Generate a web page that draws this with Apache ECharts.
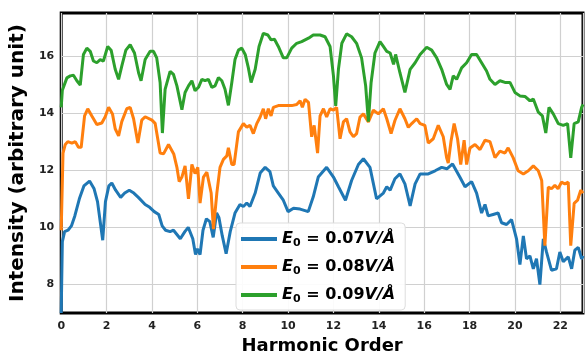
<!DOCTYPE html>
<html>
<head>
<meta charset="utf-8">
<script src="https://cdn.jsdelivr.net/npm/echarts@6/dist/echarts.min.js"></script>
<style>
html, body { margin: 0; padding: 0; background: #fff; }
#chart { width: 587px; height: 360px; }
</style>
</head>
<body>
<div id="chart"></div>
<script>
// harmonic order (x) and intensity (y) for each field strength
var h07 = [0, 0.05, 0.15, 0.3, 0.45, 0.6, 0.8, 1.0, 1.25, 1.45, 1.6, 1.83, 1.95, 2.1, 2.23, 2.4, 2.62, 2.8, 3.0, 3.2, 3.4, 3.7, 3.9, 4.1, 4.3, 4.45, 4.6, 4.8, 4.95, 5.1, 5.25, 5.45, 5.6, 5.8, 5.92, 6.0, 6.12, 6.25, 6.4, 6.55, 6.7, 6.85, 6.95, 7.1, 7.27, 7.45, 7.66, 7.88, 8.03, 8.18, 8.32, 8.55, 8.77, 8.99, 9.2, 9.35, 9.57, 9.79, 10.0, 10.24, 10.53, 10.89, 11.11, 11.33, 11.7, 12.0, 12.22, 12.53, 12.8, 13.1, 13.32, 13.61, 13.9, 14.2, 14.35, 14.5, 14.71, 14.93, 15.15, 15.38, 15.6, 15.82, 16.18, 16.48, 16.77, 17.0, 17.25, 17.57, 17.8, 18.09, 18.31, 18.53, 18.68, 18.82, 19.04, 19.26, 19.41, 19.63, 19.85, 20.07, 20.22, 20.37, 20.51, 20.66, 20.81, 20.95, 21.1, 21.25, 21.39, 21.61, 21.83, 21.98, 22.13, 22.35, 22.5, 22.64, 22.79, 22.94, 23.0];
var i07 = [7.0, 9.5, 9.85, 9.9, 10.05, 10.4, 11.0, 11.45, 11.62, 11.35, 10.9, 9.55, 10.9, 11.45, 11.55, 11.3, 11.05, 11.2, 11.3, 11.2, 11.05, 10.8, 10.7, 10.55, 10.45, 10.05, 9.9, 9.85, 9.9, 9.75, 9.6, 9.85, 10.0, 9.6, 9.05, 9.25, 9.05, 9.9, 10.3, 10.2, 9.65, 10.5, 10.35, 9.7, 9.08, 9.85, 10.5, 10.8, 10.73, 10.85, 10.73, 11.2, 11.9, 12.1, 11.95, 11.45, 11.2, 10.95, 10.55, 10.67, 10.64, 10.55, 11.07, 11.76, 12.1, 11.76, 11.42, 10.95, 11.64, 12.2, 12.4, 12.1, 11.0, 11.2, 11.42, 11.3, 11.7, 11.87, 11.52, 10.75, 11.52, 11.87, 11.87, 11.98, 12.1, 12.05, 12.22, 11.76, 11.42, 11.6, 11.2, 10.5, 10.8, 10.4, 10.45, 10.5, 10.16, 10.1, 10.27, 9.6, 8.7, 9.7, 8.9, 9.0, 8.55, 8.9, 8.0, 9.6, 9.14, 8.5, 8.55, 9.14, 8.8, 8.97, 8.55, 9.2, 9.3, 8.9, 9.0];

var h08 = [0, 0.08, 0.18, 0.29, 0.47, 0.62, 0.76, 0.88, 1.03, 1.17, 1.35, 1.57, 1.79, 1.94, 2.09, 2.26, 2.38, 2.53, 2.67, 2.89, 3.04, 3.19, 3.38, 3.55, 3.7, 4.0, 4.14, 4.36, 4.51, 4.73, 4.96, 5.1, 5.2, 5.32, 5.46, 5.61, 5.76, 5.9, 6.02, 6.12, 6.27, 6.42, 6.61, 6.71, 6.86, 7.0, 7.15, 7.3, 7.37, 7.52, 7.62, 7.81, 8.03, 8.18, 8.32, 8.47, 8.62, 8.77, 8.91, 9.01, 9.13, 9.25, 9.35, 9.57, 9.87, 10.16, 10.38, 10.53, 10.63, 10.75, 10.9, 11.04, 11.15, 11.3, 11.41, 11.56, 11.7, 11.85, 12.0, 12.14, 12.29, 12.44, 12.58, 12.73, 12.88, 13.02, 13.17, 13.32, 13.54, 13.76, 13.98, 14.2, 14.35, 14.54, 14.71, 14.93, 15.15, 15.3, 15.45, 15.67, 15.82, 16.03, 16.18, 16.4, 16.62, 16.84, 16.99, 17.06, 17.18, 17.32, 17.47, 17.61, 17.76, 17.87, 18.02, 18.24, 18.46, 18.68, 18.9, 19.12, 19.34, 19.56, 19.7, 19.92, 20.14, 20.37, 20.59, 20.81, 21.03, 21.18, 21.32, 21.47, 21.61, 21.76, 21.9, 22.05, 22.2, 22.35, 22.46, 22.61, 22.76, 22.9, 23.0];
var i08 = [9.9, 12.6, 12.9, 13.0, 12.95, 13.0, 12.8, 12.8, 13.9, 14.15, 13.9, 13.6, 13.65, 13.87, 14.2, 13.97, 13.45, 13.2, 13.7, 14.15, 14.2, 13.8, 12.95, 13.75, 13.87, 13.75, 13.64, 12.6, 12.57, 12.9, 12.57, 12.1, 11.6, 11.76, 12.15, 11.0, 12.2, 11.88, 12.1, 10.85, 11.76, 11.93, 11.2, 9.94, 11.2, 12.1, 12.38, 12.5, 12.78, 12.2, 12.2, 13.34, 13.63, 13.5, 13.57, 13.28, 13.63, 13.86, 14.15, 13.8, 14.15, 13.9, 14.2, 14.26, 14.26, 14.26, 14.3, 14.43, 14.2, 14.48, 14.37, 13.17, 13.57, 12.6, 13.9, 14.15, 13.86, 14.15, 14.1, 14.2, 13.1, 13.69, 13.8, 13.34, 13.17, 13.28, 13.86, 13.97, 13.69, 14.1, 13.97, 14.15, 13.8, 13.28, 13.74, 14.15, 13.8, 13.5, 13.63, 13.8, 13.63, 13.57, 12.95, 13.1, 13.57, 13.17, 12.43, 12.25, 13.0, 13.63, 13.1, 12.2, 13.05, 12.2, 12.78, 12.9, 12.72, 13.05, 13.0, 12.44, 12.67, 12.6, 12.78, 12.44, 11.98, 11.87, 11.98, 12.15, 11.98, 11.64, 9.36, 11.41, 11.35, 11.47, 11.35, 11.58, 11.52, 11.58, 9.36, 10.84, 10.95, 11.3, 11.2];

var h09 = [0, 0.05, 0.25, 0.4, 0.54, 0.69, 0.84, 0.98, 1.13, 1.28, 1.42, 1.57, 1.72, 1.86, 2.05, 2.2, 2.38, 2.53, 2.67, 2.85, 3.04, 3.23, 3.41, 3.52, 3.7, 3.92, 4.07, 4.21, 4.36, 4.46, 4.58, 4.8, 4.95, 5.1, 5.32, 5.46, 5.61, 5.76, 5.9, 6.05, 6.2, 6.34, 6.49, 6.64, 6.78, 6.93, 7.08, 7.22, 7.37, 7.52, 7.66, 7.81, 7.96, 8.11, 8.25, 8.37, 8.55, 8.72, 8.91, 9.11, 9.25, 9.4, 9.57, 9.79, 9.94, 10.16, 10.38, 10.6, 10.75, 10.9, 11.11, 11.41, 11.63, 11.85, 12.0, 12.1, 12.22, 12.37, 12.58, 12.8, 13.02, 13.24, 13.42, 13.54, 13.66, 13.83, 14.05, 14.2, 14.35, 14.5, 14.65, 14.74, 14.93, 15.15, 15.38, 15.6, 15.82, 16.11, 16.33, 16.55, 16.77, 16.99, 17.14, 17.28, 17.43, 17.65, 17.87, 18.09, 18.31, 18.53, 18.75, 18.9, 19.12, 19.34, 19.56, 19.78, 20.0, 20.22, 20.44, 20.66, 20.81, 21.03, 21.21, 21.36, 21.5, 21.69, 21.91, 22.13, 22.32, 22.46, 22.61, 22.79, 22.94, 23.0];
var i09 = [14.2, 14.8, 15.23, 15.3, 15.32, 15.13, 14.98, 16.05, 16.27, 16.16, 15.82, 15.76, 15.87, 15.82, 16.33, 16.2, 15.53, 15.18, 15.64, 16.2, 16.39, 16.1, 15.41, 15.13, 15.87, 16.16, 16.16, 15.93, 15.07, 13.3, 14.83, 15.46, 15.35, 14.95, 14.12, 14.72, 14.95, 15.13, 14.78, 14.9, 15.18, 15.13, 15.18, 14.9, 14.95, 15.24, 15.13, 14.83, 14.27, 15.07, 15.87, 16.2, 16.27, 16.05, 15.58, 15.07, 15.53, 16.33, 16.79, 16.73, 16.56, 16.58, 16.33, 15.93, 15.93, 16.27, 16.44, 16.5, 16.56, 16.62, 16.73, 16.73, 16.67, 16.33, 15.3, 14.25, 15.53, 16.44, 16.77, 16.67, 16.44, 15.93, 14.95, 13.7, 15.07, 16.1, 16.5, 16.33, 16.16, 16.1, 15.7, 16.05, 15.41, 14.72, 15.53, 15.76, 16.05, 16.3, 16.2, 15.93, 15.53, 15.0, 14.83, 15.3, 15.18, 15.58, 15.76, 16.05, 16.05, 15.76, 15.47, 15.18, 15.0, 15.13, 15.07, 15.07, 14.72, 14.6, 14.58, 14.43, 14.49, 14.03, 13.9, 13.3, 14.2, 13.97, 13.63, 13.57, 13.63, 12.43, 13.63, 13.69, 14.2, 14.3];

var fields = ['0.07', '0.08', '0.09'];
var colors = ['#1f77b4', '#ff7f0e', '#2ca02c'];
var yTicks = [8, 10, 12, 14, 16];

function pairs(xs, ys) {
	var out = [];
	for (var i = 0; i < xs.length; i++) {
		out.push([xs[i], ys[i]]);
	}
	return out;
}

var xs = [h07, h08, h09];
var ys = [i07, i08, i09];
var series = [];
for (var k = 0; k < 3; k++) {
	series.push({
		name: 'E0 = ' + fields[k] + 'V/Å',
		type: 'line',
		data: pairs(xs[k], ys[k]),
		symbol: 'none',
		lineStyle: { width: 3, color: colors[k] },
		itemStyle: { color: colors[k] },
		animation: false
	});
}

var font = 'DejaVu Sans';
var myChart = echarts.init(document.getElementById('chart'));
var option = {
	backgroundColor: '#fff',
	color: colors,
	grid: {
		left: 61, top: 13, right: 4, bottom: 41,
		show: true,
		borderColor: '#000',
		borderWidth: 3
	},
	legend: {
		orient: 'vertical',
		left: 236,
		top: 223,
		padding: [6, 10, 5, 5],
		itemGap: 8,
		itemWidth: 36,
		itemHeight: 4,
		icon: 'rect',
		backgroundColor: 'rgba(255,255,255,0.9)',
		borderColor: '#dddddd',
		borderWidth: 1,
		borderRadius: 4,
		data: series.map(function (s) { return s.name; }),
		formatter: function (name) {
			var v = name.split('= ')[1].replace('V/Å', '');
			return '{i|E}{s|0}{b| = ' + v + '}{i|V/Å}';
		},
		textStyle: {
			fontFamily: font,
			lineHeight: 20,
			rich: {
				i: { fontFamily: font, fontSize: 16, fontWeight: 'bold', fontStyle: 'italic', color: '#000', lineHeight: 20 },
				b: { fontFamily: font, fontSize: 16, fontWeight: 'bold', color: '#000', lineHeight: 20 },
				s: { fontFamily: font, fontSize: 11, fontWeight: 'bold', color: '#000', lineHeight: 20, padding: [8, 0, 0, 0] }
			}
		}
	},
	xAxis: {
		type: 'value',
		min: 0,
		max: 23,
		interval: 2,
		name: 'Harmonic Order',
		nameLocation: 'middle',
		nameGap: 21,
		nameTextStyle: { fontFamily: font, fontSize: 18, fontWeight: 'bold', color: '#000' },
		axisLine: { show: false },
		axisTick: { show: false },
		axisLabel: {
			fontFamily: font, fontSize: 11, fontWeight: 'bold', color: '#222',
			margin: 8, showMaxLabel: false
		},
		splitLine: { show: true, lineStyle: { color: '#d0d0d0', width: 1.2 } }
	},
	yAxis: {
		type: 'value',
		min: 7,
		max: 17.5,
		name: 'Intensity (arbitrary unit)',
		nameLocation: 'middle',
		nameGap: 28,
		nameTextStyle: { fontFamily: font, fontSize: 20, fontWeight: 'bold', color: '#000' },
		axisLine: { show: false },
		axisTick: { show: false, customValues: yTicks },
		axisLabel: {
			fontFamily: font, fontSize: 11, fontWeight: 'bold', color: '#222',
			margin: 7, customValues: yTicks
		},
		splitLine: { show: true, lineStyle: { color: '#d0d0d0', width: 1.2 } }
	},
	series: series
};
if (option && typeof option === "object") {
	myChart.setOption(option, true);
}
</script>
</body>
</html>
